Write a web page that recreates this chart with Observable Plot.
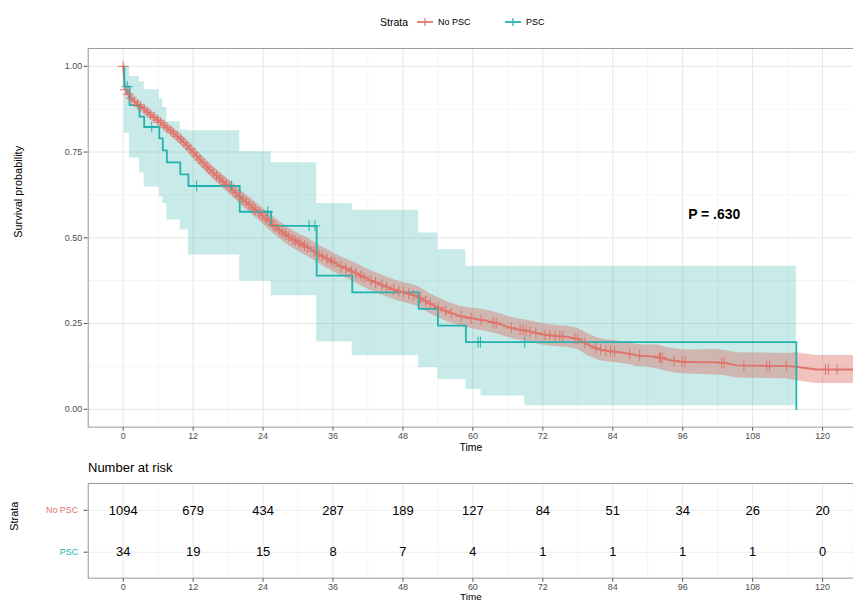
<!DOCTYPE html>
<html><head><meta charset="utf-8">
<script src="https://cdn.jsdelivr.net/npm/d3@7"></script>
<script src="https://cdn.jsdelivr.net/npm/@observablehq/plot@0.6"></script>
<style>
body{margin:0;width:853px;height:601px;overflow:hidden;background:#fff;font-family:"Liberation Sans",Arial,sans-serif;position:relative}
.lg{position:absolute;font-size:10px;color:#000;white-space:nowrap;line-height:12px}
.lgs{position:absolute}
#main{position:absolute;top:40px;left:0}
#risk-title{position:absolute;top:460px;left:88px;font-size:13px;color:#000}
#risk{position:absolute;top:478px;left:0}
</style></head><body>
<span class="lg" style="left:380px;top:16px;font-size:10.5px">Strata</span>
<svg class="lgs" style="left:417px;top:15px" width="16" height="14"><line x1="0" x2="16" y1="7" y2="7" stroke="#e0746a" stroke-width="1.8"/><line x1="8" x2="8" y1="3" y2="11" stroke="#e0746a" stroke-width="1.2"/></svg>
<span class="lg" style="left:438px;top:16px;font-size:9px">No PSC</span>
<svg class="lgs" style="left:505px;top:15px" width="16" height="14"><line x1="0" x2="16" y1="7" y2="7" stroke="#22b2b0" stroke-width="1.8"/><line x1="8" x2="8" y1="3" y2="11" stroke="#22b2b0" stroke-width="1.2"/></svg>
<span class="lg" style="left:526px;top:16px;font-size:9px">PSC</span>
<div id="main"></div>
<div id="risk-title">Number at risk</div>
<div id="risk"></div>
<script>
// ---------- data ----------
const strata = ["No PSC", "PSC"];
const xTicks = [0, 12, 24, 36, 48, 60, 72, 84, 96, 108, 120];
const xMinor = [-6, 6, 18, 30, 42, 54, 66, 78, 90, 102, 114, 126];
const yTicks = [0, 0.25, 0.5, 0.75, 1];
const yMinor = [0.125, 0.375, 0.625, 0.875];

// No PSC Kaplan-Meier curve
const noPscTime = [0, 0.3, 0.6, 1.2, 2.3, 3.5, 4.6, 6.3, 8.0, 9.7, 11.5, 13.2, 14.9, 16.6, 18.3, 20.0, 21.7, 23.4, 25.1, 26.8, 28.5, 30.2, 31.9, 33.6, 35.3, 37.0, 38.7, 40.4, 42.1, 43.9, 45.6, 47.3, 49.0, 50.7, 52.4, 54.1, 55.8, 57.5, 59.2, 60.9, 62.6, 64.3, 66.0, 67.7, 69.5, 71.2, 72.9, 74.6, 76.3, 78.0, 79.7, 81.4, 83.1, 84.8, 86.5, 88.2, 89.9, 91.6, 93.3, 95.1, 96.8, 101.9, 103.6, 105.3, 113.8, 115.5, 118.9, 125.3];
const noPscSurv = [1.000, 0.935, 0.925, 0.911, 0.891, 0.877, 0.860, 0.838, 0.814, 0.790, 0.759, 0.727, 0.698, 0.672, 0.647, 0.620, 0.596, 0.572, 0.547, 0.523, 0.502, 0.485, 0.470, 0.451, 0.436, 0.420, 0.407, 0.393, 0.378, 0.366, 0.354, 0.344, 0.337, 0.328, 0.310, 0.296, 0.283, 0.273, 0.267, 0.262, 0.257, 0.250, 0.240, 0.233, 0.228, 0.221, 0.216, 0.213, 0.211, 0.205, 0.189, 0.176, 0.170, 0.167, 0.163, 0.157, 0.155, 0.153, 0.145, 0.140, 0.138, 0.137, 0.134, 0.128, 0.126, 0.124, 0.116, 0.116];
const noPscLower = [1.000, 0.929, 0.918, 0.903, 0.882, 0.867, 0.849, 0.826, 0.801, 0.775, 0.743, 0.710, 0.680, 0.653, 0.627, 0.599, 0.574, 0.549, 0.523, 0.498, 0.476, 0.459, 0.443, 0.424, 0.408, 0.392, 0.379, 0.364, 0.349, 0.337, 0.325, 0.315, 0.308, 0.299, 0.281, 0.267, 0.254, 0.244, 0.238, 0.231, 0.226, 0.219, 0.209, 0.202, 0.197, 0.190, 0.185, 0.182, 0.180, 0.174, 0.157, 0.144, 0.138, 0.135, 0.131, 0.125, 0.123, 0.118, 0.110, 0.105, 0.103, 0.100, 0.097, 0.091, 0.089, 0.083, 0.075, 0.075];
const noPscUpper = [1.000, 0.941, 0.932, 0.919, 0.900, 0.887, 0.871, 0.850, 0.827, 0.805, 0.775, 0.744, 0.716, 0.691, 0.667, 0.641, 0.618, 0.595, 0.571, 0.548, 0.528, 0.511, 0.497, 0.478, 0.464, 0.448, 0.435, 0.422, 0.407, 0.395, 0.383, 0.373, 0.366, 0.357, 0.339, 0.325, 0.312, 0.302, 0.296, 0.293, 0.288, 0.281, 0.271, 0.264, 0.259, 0.252, 0.247, 0.244, 0.242, 0.236, 0.221, 0.208, 0.202, 0.199, 0.195, 0.189, 0.187, 0.188, 0.180, 0.175, 0.173, 0.174, 0.171, 0.165, 0.163, 0.165, 0.157, 0.157];
const noPscCensored = [0, 0.4, 0.9, 1.4, 1.9, 2.5, 3.0, 3.6, 4.2, 4.7, 5.3, 5.9, 6.4, 7.0, 7.5, 8.2, 8.6, 9.3, 9.8, 10.4, 10.9, 11.5, 12.1, 12.6, 13.2, 13.7, 14.4, 14.8, 15.5, 16.0, 16.6, 17.1, 17.7, 18.2, 18.9, 19.3, 20.0, 20.5, 21.1, 21.6, 22.3, 22.7, 23.4, 23.9, 24.5, 25.0, 25.7, 26.1, 26.8, 27.3, 27.9, 28.4, 29.1, 29.5, 30.1, 30.5, 31.1, 31.6, 32.8, 33.6, 34.1, 35.0, 35.7, 36.2, 37.4, 38.2, 39.2, 39.9, 40.8, 41.3, 42.5, 43.3, 44.4, 45.2, 46.4, 47.3, 48.1, 49.0, 49.8, 51.0, 51.9, 52.7, 54.1, 55.3, 56.3, 58.0, 59.7, 61.4, 63.5, 64.0, 66.6, 68.1, 68.6, 69.1, 69.8, 70.8, 72.4, 73.2, 74.1, 74.9, 75.4, 77.5, 78.0, 79.2, 81.1, 81.9, 82.8, 83.6, 84.3, 86.9, 88.6, 92.0, 92.2, 92.5, 94.5, 95.9, 96.4, 102.7, 103.1, 106.5, 110.4, 110.9, 113.8, 120.5, 121.0, 122.5];

// PSC Kaplan-Meier curve
const pscTime = [0, 0.2, 1.1, 2.8, 3.6, 6.2, 6.8, 7.5, 9.8, 11.2, 20.0, 25.4, 33.2, 39.3, 50.7, 54.0, 58.8, 61.4, 68.9, 115.5];
const pscSurv = [1, 0.941, 0.887, 0.853, 0.823, 0.790, 0.755, 0.720, 0.685, 0.651, 0.576, 0.535, 0.390, 0.341, 0.293, 0.244, 0.196, 0.196, 0.196, 0];
const pscLower = [1, 0.805, 0.733, 0.689, 0.648, 0.620, 0.600, 0.552, 0.523, 0.450, 0.373, 0.331, 0.196, 0.156, 0.121, 0.087, 0.058, 0.039, 0.010, 0.010];
const pscUpper = [1, 1.000, 0.970, 0.955, 0.932, 0.905, 0.880, 0.838, 0.814, 0.812, 0.751, 0.719, 0.600, 0.580, 0.514, 0.465, 0.417, 0.417, 0.417, 0.417];
const pscCensored = [0.7, 4.9, 12.6, 18.6, 24.8, 31.9, 32.9, 60.9, 61.3, 68.9];

// number at risk
const riskTimes = [0, 12, 24, 36, 48, 60, 72, 84, 96, 108, 120];
const noPscAtRisk = [1094, 679, 434, 287, 189, 127, 84, 51, 34, 26, 20];
const pscAtRisk = [34, 19, 15, 8, 7, 4, 1, 1, 1, 1, 0];

const pValue = {label: "P = .630", time: 101.4, surv: 0.567};

// ---------- styling ----------
const RED = "#e0746a", TEAL = "#22b2b0";
const RED_BAND = "#d9685e", TEAL_BAND = "#3bb3ae";
const FONT = "'Liberation Sans', Arial, sans-serif";

// ---------- build tables ----------
const noPsc = noPscTime.map((t, i) => ({time: t, surv: noPscSurv[i], lower: noPscLower[i], upper: noPscUpper[i]}));
const psc = pscTime.map((t, i) => ({time: t, surv: pscSurv[i], lower: pscLower[i], upper: pscUpper[i]}));
function linAt(ts, vs, t) {
  for (let i = 1; i < ts.length; i++) if (t <= ts[i]) { const f = (t - ts[i-1]) / (ts[i] - ts[i-1]); return vs[i-1] + f * (vs[i] - vs[i-1]); }
  return vs[vs.length - 1];
}
function stepAt(ts, vs, t) { let v = vs[0]; for (let i = 0; i < ts.length; i++) if (ts[i] <= t) v = vs[i]; return v; }
const noPscCens = noPscCensored.map(t => ({time: t, surv: linAt(noPscTime, noPscSurv, t)}));
const pscCens = pscCensored.map(t => ({time: t, surv: stepAt(pscTime, pscSurv, t)}));
const riskRows = [
  ...riskTimes.map((t, i) => ({time: t, strata: "No PSC", n: String(noPscAtRisk[i])})),
  ...riskTimes.map((t, i) => ({time: t, strata: "PSC", n: String(pscAtRisk[i])}))
];

const X_DOMAIN = [-6, 125.3];

const main = Plot.plot({
  width: 856, height: 416, marginLeft: 88, marginRight: 0, marginTop: 8, marginBottom: 28,
  style: {fontFamily: FONT, fontSize: "9px", color: "#4d4d4d", background: "transparent", overflow: "visible"},
  x: {domain: X_DOMAIN, ticks: xTicks, tickSize: 4, tickPadding: 2, label: null},
  y: {domain: [-0.052, 1.052], ticks: yTicks, tickFormat: d3.format(".2f"), tickSize: 4, tickPadding: 2, label: null},
  marks: [
    Plot.ruleX(xMinor, {stroke: "#f3f3f3", strokeWidth: 0.8}),
    Plot.ruleY(yMinor, {stroke: "#f3f3f3", strokeWidth: 0.8}),
    Plot.ruleX(xTicks, {stroke: "#e5e5e5", strokeWidth: 1}),
    Plot.ruleY(yTicks, {stroke: "#e5e5e5", strokeWidth: 1}),
    Plot.areaY(psc, {x: "time", y1: "lower", y2: "upper", curve: "step-after", fill: TEAL_BAND, fillOpacity: 0.28}),
    Plot.areaY(noPsc, {x: "time", y1: "lower", y2: "upper", fill: RED_BAND, fillOpacity: 0.4}),
    Plot.line(noPsc, {x: "time", y: "surv", stroke: RED, strokeWidth: 1.9}),
    Plot.line(psc, {x: "time", y: "surv", curve: "step-after", stroke: TEAL, strokeWidth: 1.8}),
    Plot.dot(noPscCens, {x: "time", y: "surv", symbol: "plus", r: 3.6, stroke: RED, strokeWidth: 1}),
    Plot.dot(pscCens, {x: "time", y: "surv", symbol: "plus", r: 3.6, stroke: TEAL, strokeWidth: 1}),
    Plot.text([pValue], {x: "time", y: "surv", text: "label", fontSize: 14, fontWeight: "bold", fill: "#000"}),
    Plot.frame({stroke: "#9a9a9a"}),
    Plot.text(["Time"], {frameAnchor: "bottom", dy: 24, fontSize: 10.5, fill: "#000"}),
    Plot.text(["Survival probability"], {frameAnchor: "left", rotate: -90, dx: -70, fontSize: 11, fill: "#000"})
  ]
});
document.getElementById("main").append(main);

const risk = Plot.plot({
  width: 856, height: 130, marginLeft: 88, marginRight: 0, marginTop: 5, marginBottom: 30,
  style: {fontFamily: FONT, fontSize: "9px", color: "#4d4d4d", background: "transparent", overflow: "visible"},
  x: {domain: X_DOMAIN, ticks: xTicks, tickSize: 4, tickPadding: 2, label: null},
  y: {type: "point", domain: strata, padding: 0.605, tickSize: 4, tickFormat: () => "", label: null},
  color: {domain: strata, range: [RED, TEAL]},
  marks: [
    Plot.ruleX(xMinor, {stroke: "#f3f3f3", strokeWidth: 0.8}),
    Plot.ruleX(xTicks, {stroke: "#e8e8e8", strokeWidth: 1}),
    Plot.ruleY(strata, {y: d => d, stroke: "#ececec", strokeWidth: 1}),
    Plot.text(riskRows, {x: "time", y: "strata", text: "n", fontSize: 13, fill: "#000"}),
    Plot.text(strata, {y: d => d, frameAnchor: "left", dx: -10, textAnchor: "end", fill: d => d, fontSize: 9}),
    Plot.frame({stroke: "#9a9a9a"}),
    Plot.text(["Time"], {frameAnchor: "bottom", dy: 22, fontSize: 10, fill: "#000"}),
    Plot.text(["Strata"], {frameAnchor: "left", rotate: -90, dx: -74, fontSize: 11, fill: "#000"})
  ]
});
document.getElementById("risk").append(risk);
</script>
</body></html>
